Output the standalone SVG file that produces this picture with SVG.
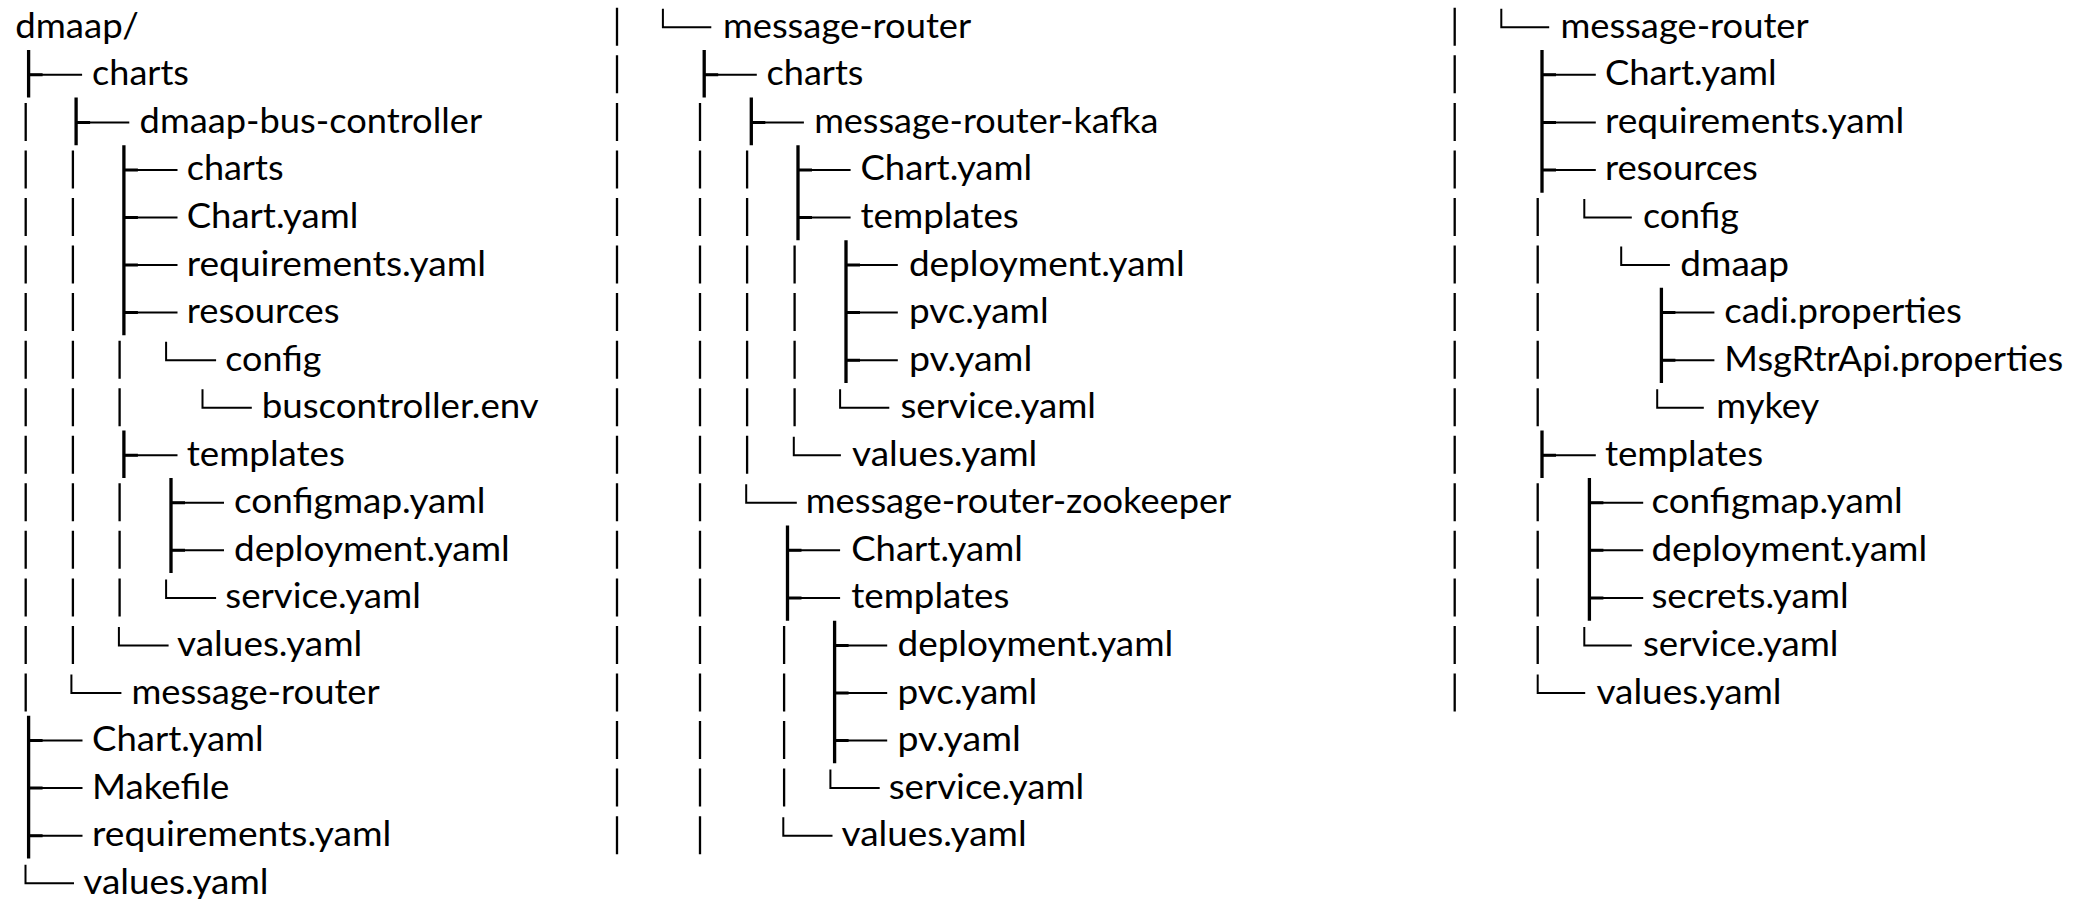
<svg xmlns="http://www.w3.org/2000/svg" width="2084" height="899" viewBox="0 0 2084 899">
<style>
.t{font-family:Lato,"Liberation Sans",sans-serif;font-size:35.5px;fill:#000}
.p{stroke:#000;stroke-width:2.3;fill:none;stroke-dasharray:38 9.55}
.v{stroke:#000;stroke-width:3.3;fill:none}
.h{stroke:#000;stroke-width:2;fill:none}
.s{stroke:#000;stroke-width:3;fill:none}
</style>
<rect width="2084" height="899" fill="#fff"/>
<g id="connectors">
<!-- column 1 pipes -->
<path class="p" d="M25.7 102.9V711.5M72.9 150.45V663.95M119.6 340.65V426.2M119.6 483.3V616.4"/>
<!-- column 1 tees -->
<path class="v" d="M28.6 50.05V97.6M76.1 97.6V145.15M123.9 145.15V335.35M123.9 430.45V478M171 478V573.1M28.6 715.75V858.4"/>
<path class="h" d="M28.6 74.85H82.1M76.1 122.4H129.3M123.9 169.95H177.5M123.9 217.5H177.5M123.9 265.05H177.5M123.9 312.6H177.5M123.9 455.25H177.5M171 502.8H224M171 550.35H224M28.6 740.55H82.5M28.6 788.1H82.5M28.6 835.65H82.5"/>
<path class="s" d="M28.6 74.85h14M76.1 122.4h14M123.9 169.95h14M123.9 217.5h14M123.9 265.05h14M123.9 312.6h14M123.9 455.25h14M171 502.8h14M171 550.35h14M28.6 740.55h14M28.6 788.1h14M28.6 835.65h14"/>
<!-- column 1 corners -->
<path class="h" d="M166.1 341.65V360.15H216.1M202.5 389.2V407.7H251.8M166.1 579.4V597.9H216.1M118.9 626.95V645.45H168.6M71.4 674.5V693H121.4M25.5 864.7V883.2H74"/>
<!-- column 2 pipes -->
<path class="p" d="M617 7.8V854.15M700 102.9V854.15M747.1 150.45V473.75M794.6 245.55V426.2M784.1 625.95V806.6"/>
<!-- column 2 tees -->
<path class="v" d="M704.2 50.05V97.6M751.3 97.6V145.15M798 145.15V240.25M846 240.25V382.9M787.5 525.55V620.65M834.6 620.65V763.3"/>
<path class="h" d="M704.2 74.85H756.8M751.3 122.4H803.9M798 169.95H850.6M798 217.5H850.6M846 265.05H897.8M846 312.6H897.8M846 360.15H897.8M787.5 550.35H840.1M787.5 597.9H840.1M834.6 645.45H887.2M834.6 693H887.2M834.6 740.55H887.2"/>
<path class="s" d="M704.2 74.85h14M751.3 122.4h14M798 169.95h14M798 217.5h14M846 265.05h14M846 312.6h14M846 360.15h14M787.5 550.35h14M787.5 597.9h14M834.6 645.45h14M834.6 693h14M834.6 740.55h14"/>
<!-- column 2 corners -->
<path class="h" d="M662.9 8.8V27.3H711.3M840.1 389.2V407.7H889.3M793.8 436.75V455.25H840.9M746.2 484.3V502.8H796.8M830.4 769.6V788.1H879.7M783.3 817.15V835.65H832.5"/>
<!-- column 3 pipes -->
<path class="p" d="M1454.7 7.8V711.5M1537.7 198V426.2M1537.7 483.3V663.95"/>
<!-- column 3 tees -->
<path class="v" d="M1542 50.05V192.7M1661.4 287.8V382.9M1542 430.45V478M1589.4 478V620.65"/>
<path class="h" d="M1542 74.85H1595.8M1542 122.4H1595.8M1542 169.95H1595.8M1661.4 312.6H1714.4M1661.4 360.15H1714.4M1542 455.25H1595.8M1589.4 502.8H1643.2M1589.4 550.35H1643.2M1589.4 597.9H1643.2"/>
<path class="s" d="M1542 74.85h14M1542 122.4h14M1542 169.95h14M1661.4 312.6h14M1661.4 360.15h14M1542 455.25h14M1589.4 502.8h14M1589.4 550.35h14M1589.4 597.9h14"/>
<!-- column 3 corners -->
<path class="h" d="M1501.3 8.8V27.3H1549.2M1584.3 199V217.5H1631.8M1621.2 246.55V265.05H1669.9M1657.2 389.2V407.7H1703.8M1584.3 626.95V645.45H1631.8M1537.7 674.5V693H1585.2"/>
</g>
<!-- column 1 nodes -->
<g id="c1-dmaap"><text class="t" x="15.3" y="37.8" textLength="123.6" lengthAdjust="spacingAndGlyphs">dmaap/</text></g>
<g id="c1-charts"><text class="t" x="92.1" y="85.35" textLength="96.8" lengthAdjust="spacingAndGlyphs">charts</text></g>
<g id="c1-dmaap-bus-controller"><text class="t" x="139.6" y="132.9" textLength="342.5" lengthAdjust="spacingAndGlyphs">dmaap-bus-controller</text></g>
<g id="c1-bc-charts"><text class="t" x="186.7" y="180.45" textLength="96.8" lengthAdjust="spacingAndGlyphs">charts</text></g>
<g id="c1-bc-chart-yaml"><text class="t" x="186.7" y="228" textLength="171.6" lengthAdjust="spacingAndGlyphs">Chart.yaml</text></g>
<g id="c1-bc-requirements"><text class="t" x="186.7" y="275.55" textLength="299.3" lengthAdjust="spacingAndGlyphs">requirements.yaml</text></g>
<g id="c1-bc-resources"><text class="t" x="186.7" y="323.1" textLength="152.9" lengthAdjust="spacingAndGlyphs">resources</text></g>
<g id="c1-bc-config"><text class="t" x="225.3" y="370.65" textLength="96" lengthAdjust="spacingAndGlyphs">config</text></g>
<g id="c1-bc-buscontroller-env"><text class="t" x="261.7" y="418.2" textLength="277.1" lengthAdjust="spacingAndGlyphs">buscontroller.env</text></g>
<g id="c1-bc-templates"><text class="t" x="186.7" y="465.75" textLength="158.2" lengthAdjust="spacingAndGlyphs">templates</text></g>
<g id="c1-bc-configmap"><text class="t" x="234" y="513.3" textLength="251.4" lengthAdjust="spacingAndGlyphs">configmap.yaml</text></g>
<g id="c1-bc-deployment"><text class="t" x="234" y="560.85" textLength="275.8" lengthAdjust="spacingAndGlyphs">deployment.yaml</text></g>
<g id="c1-bc-service"><text class="t" x="225.3" y="608.4" textLength="195.5" lengthAdjust="spacingAndGlyphs">service.yaml</text></g>
<g id="c1-bc-values"><text class="t" x="177.1" y="655.95" textLength="185.2" lengthAdjust="spacingAndGlyphs">values.yaml</text></g>
<g id="c1-message-router"><text class="t" x="131.4" y="703.5" textLength="248.3" lengthAdjust="spacingAndGlyphs">message-router</text></g>
<g id="c1-chart-yaml"><text class="t" x="92.1" y="751.05" textLength="171.6" lengthAdjust="spacingAndGlyphs">Chart.yaml</text></g>
<g id="c1-makefile"><text class="t" x="92.1" y="798.6" textLength="137.3" lengthAdjust="spacingAndGlyphs">Makefile</text></g>
<g id="c1-requirements"><text class="t" x="92.1" y="846.15" textLength="299.3" lengthAdjust="spacingAndGlyphs">requirements.yaml</text></g>
<g id="c1-values"><text class="t" x="83.3" y="893.7" textLength="185.2" lengthAdjust="spacingAndGlyphs">values.yaml</text></g>
<!-- column 2 nodes -->
<g id="c2-message-router"><text class="t" x="722.9" y="37.8" textLength="248.3" lengthAdjust="spacingAndGlyphs">message-router</text></g>
<g id="c2-charts"><text class="t" x="766.6" y="85.35" textLength="96.8" lengthAdjust="spacingAndGlyphs">charts</text></g>
<g id="c2-kafka"><text class="t" x="814.2" y="132.9" textLength="344.2" lengthAdjust="spacingAndGlyphs">message-router-kafka</text></g>
<g id="c2-kafka-chart"><text class="t" x="860.5" y="180.45" textLength="171.6" lengthAdjust="spacingAndGlyphs">Chart.yaml</text></g>
<g id="c2-kafka-templates"><text class="t" x="860.5" y="228" textLength="158.2" lengthAdjust="spacingAndGlyphs">templates</text></g>
<g id="c2-kafka-deployment"><text class="t" x="908.9" y="275.55" textLength="275.8" lengthAdjust="spacingAndGlyphs">deployment.yaml</text></g>
<g id="c2-kafka-pvc"><text class="t" x="908.9" y="323.1" textLength="139.8" lengthAdjust="spacingAndGlyphs">pvc.yaml</text></g>
<g id="c2-kafka-pv"><text class="t" x="908.9" y="370.65" textLength="123.4" lengthAdjust="spacingAndGlyphs">pv.yaml</text></g>
<g id="c2-kafka-service"><text class="t" x="900.5" y="418.2" textLength="195.5" lengthAdjust="spacingAndGlyphs">service.yaml</text></g>
<g id="c2-kafka-values"><text class="t" x="852.1" y="465.75" textLength="185.2" lengthAdjust="spacingAndGlyphs">values.yaml</text></g>
<g id="c2-zookeeper"><text class="t" x="805.8" y="513.3" textLength="425.5" lengthAdjust="spacingAndGlyphs">message-router-zookeeper</text></g>
<g id="c2-zk-chart"><text class="t" x="851.2" y="560.85" textLength="171.6" lengthAdjust="spacingAndGlyphs">Chart.yaml</text></g>
<g id="c2-zk-templates"><text class="t" x="851.2" y="608.4" textLength="158.2" lengthAdjust="spacingAndGlyphs">templates</text></g>
<g id="c2-zk-deployment"><text class="t" x="897.5" y="655.95" textLength="275.8" lengthAdjust="spacingAndGlyphs">deployment.yaml</text></g>
<g id="c2-zk-pvc"><text class="t" x="897.5" y="703.5" textLength="139.8" lengthAdjust="spacingAndGlyphs">pvc.yaml</text></g>
<g id="c2-zk-pv"><text class="t" x="897.5" y="751.05" textLength="123.4" lengthAdjust="spacingAndGlyphs">pv.yaml</text></g>
<g id="c2-zk-service"><text class="t" x="888.7" y="798.6" textLength="195.5" lengthAdjust="spacingAndGlyphs">service.yaml</text></g>
<g id="c2-zk-values"><text class="t" x="841.5" y="846.15" textLength="185.2" lengthAdjust="spacingAndGlyphs">values.yaml</text></g>
<!-- column 3 nodes -->
<g id="c3-message-router"><text class="t" x="1560.4" y="37.8" textLength="248.3" lengthAdjust="spacingAndGlyphs">message-router</text></g>
<g id="c3-chart"><text class="t" x="1604.9" y="85.35" textLength="171.6" lengthAdjust="spacingAndGlyphs">Chart.yaml</text></g>
<g id="c3-requirements"><text class="t" x="1604.9" y="132.9" textLength="299.3" lengthAdjust="spacingAndGlyphs">requirements.yaml</text></g>
<g id="c3-resources"><text class="t" x="1604.9" y="180.45" textLength="152.9" lengthAdjust="spacingAndGlyphs">resources</text></g>
<g id="c3-config"><text class="t" x="1643" y="228" textLength="96" lengthAdjust="spacingAndGlyphs">config</text></g>
<g id="c3-dmaap"><text class="t" x="1680.3" y="275.55" textLength="108.6" lengthAdjust="spacingAndGlyphs">dmaap</text></g>
<g id="c3-cadi"><text class="t" x="1724.3" y="323.1" textLength="237.4" lengthAdjust="spacingAndGlyphs">cadi.properties</text></g>
<g id="c3-msgrtrapi"><text class="t" x="1724.3" y="370.65" textLength="338.8" lengthAdjust="spacingAndGlyphs">MsgRtrApi.properties</text></g>
<g id="c3-mykey"><text class="t" x="1716.3" y="418.2" textLength="102.9" lengthAdjust="spacingAndGlyphs">mykey</text></g>
<g id="c3-templates"><text class="t" x="1604.9" y="465.75" textLength="158.2" lengthAdjust="spacingAndGlyphs">templates</text></g>
<g id="c3-configmap"><text class="t" x="1651.4" y="513.3" textLength="251.4" lengthAdjust="spacingAndGlyphs">configmap.yaml</text></g>
<g id="c3-deployment"><text class="t" x="1651.4" y="560.85" textLength="275.8" lengthAdjust="spacingAndGlyphs">deployment.yaml</text></g>
<g id="c3-secrets"><text class="t" x="1651.4" y="608.4" textLength="197.3" lengthAdjust="spacingAndGlyphs">secrets.yaml</text></g>
<g id="c3-service"><text class="t" x="1643" y="655.95" textLength="195.5" lengthAdjust="spacingAndGlyphs">service.yaml</text></g>
<g id="c3-values"><text class="t" x="1596.4" y="703.5" textLength="185.2" lengthAdjust="spacingAndGlyphs">values.yaml</text></g>
</svg>
